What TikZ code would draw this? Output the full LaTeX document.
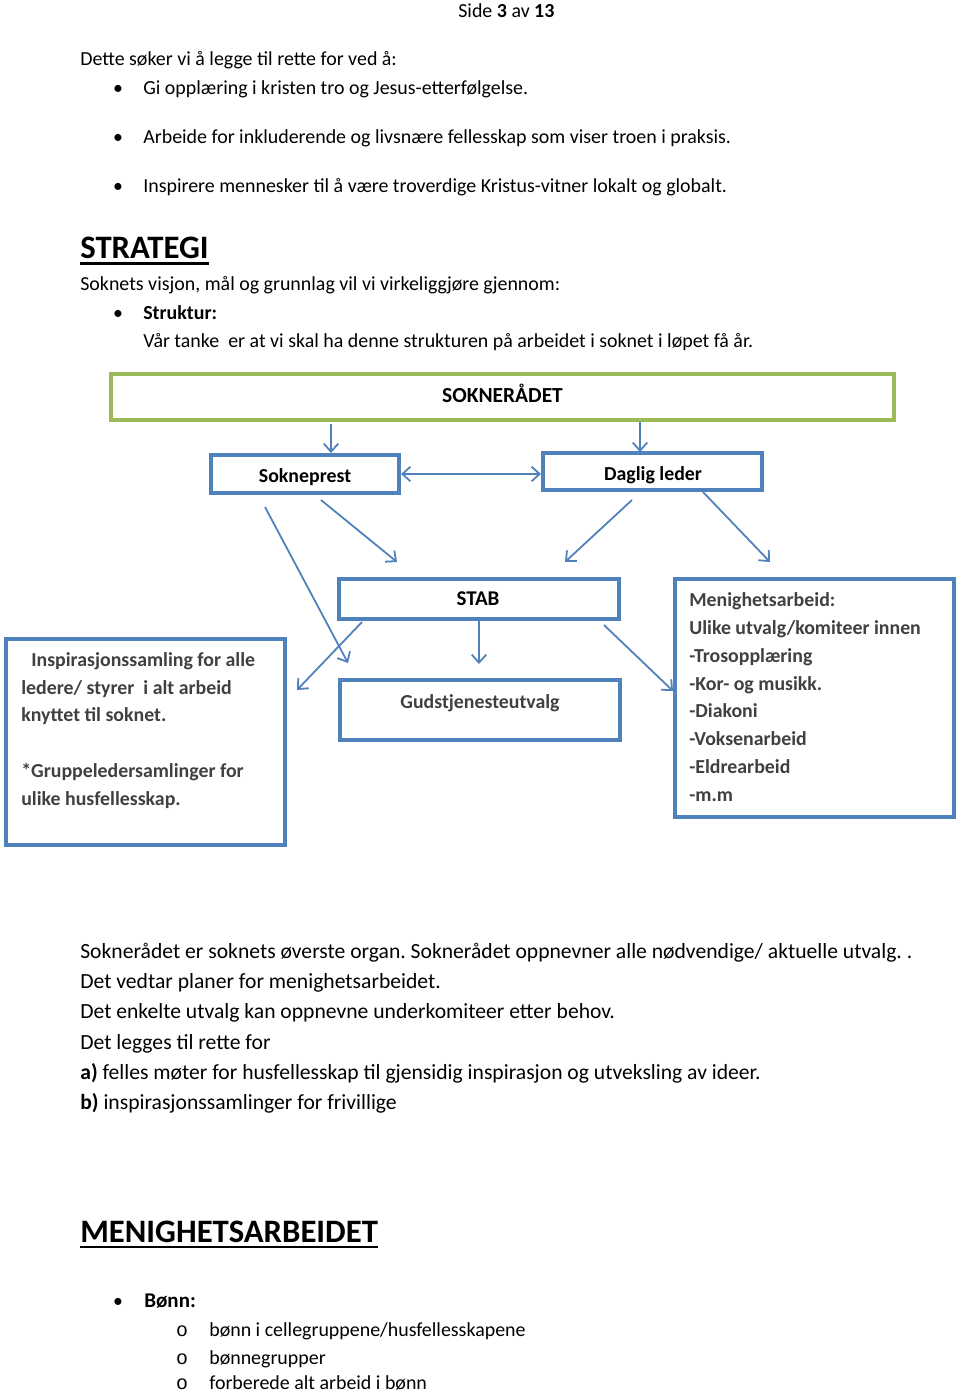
\documentclass[tikz,border=0pt]{standalone}
\usepackage{fontspec}
\setmainfont{Carlito}
\newfontfamily\monofnt{Liberation Mono}
\usetikzlibrary{arrows.meta,calc}
\definecolor{bxblue}{HTML}{4F81BD}
\definecolor{bxgreen}{HTML}{9BBB59}
\definecolor{txgray}{HTML}{404040}
\frenchspacing
\begin{document}
\begin{tikzpicture}[x=0.62pt,y=-0.62pt,
  txt/.style={anchor=base west, inner sep=0, yshift=-1pt, font=\fontsize{12.35}{14}\selectfont},
  txtb/.style={anchor=base west, inner sep=0, yshift=-0.6pt, font=\fontsize{13.4}{15}\selectfont},
  bul/.style={anchor=base, inner sep=0, yshift=-1pt, font=\fontsize{12.3}{14}\selectfont},
  head/.style={anchor=base west, inner sep=0, yshift=-1pt, font=\fontsize{20.3}{24}\selectfont\bfseries},
  bxt/.style={anchor=base west, inner sep=0, yshift=-0.6pt, font=\fontsize{12.3}{14}\selectfont\bfseries, text=txgray},
  bxc/.style={anchor=base, inner sep=0, yshift=-0.6pt, font=\fontsize{12.3}{14}\selectfont\bfseries},
  bluebox/.style={draw=bxblue, line width=2.3pt, fill=white, inner sep=0, rectangle},
  greenbox/.style={draw=bxgreen, line width=2.5pt, fill=white, inner sep=0, rectangle},
  conn/.style={draw=bxblue, line width=1.1pt, -{Straight Barb[length=5pt,width=9pt,line width=1.1pt]}},
  uline/.style={line width=1.6pt}
]
\useasboundingbox (0,0) rectangle (960,1394);
\fill[white] (0,0) rectangle (960,1394);

% header
\node[txt] (side) at (458,16) {Side \textbf{3} av \textbf{13}};

\node[txt] (t1) at (80,64) {Dette søker vi å legge til rette for ved å:};
\node[bul] (b1) at (118,93) {•};
\node[txt] (t2) at (143,93) {Gi opplæring i kristen tro og Jesus-etterfølgelse.};
\node[bul] (b2) at (118,142) {•};
\node[txt] (t3) at (143,142) {Arbeide for inkluderende og livsnære fellesskap som viser troen i praksis.};
\node[bul] (b3) at (118,191) {•};
\node[txt] (t4) at (143,191) {Inspirere mennesker til å være troverdige Kristus-vitner lokalt og globalt.};

\node[head] (strat) at (80,257) {STRATEGI};
\draw[uline] ($(strat.base west)+(0,5)$) -- ($(strat.base east)+(0,5)$);

\node[txt] (t5) at (80,289) {Soknets visjon, mål og grunnlag vil vi virkeliggjøre gjennom:};
\node[bul] (b4) at (118,318) {•};
\node[txt] (t6) at (143,318) {\bfseries Struktur:};
\node[txt] (t7) at (143,346) {Vår tanke\ \ er at vi skal ha denne strukturen på arbeidet i soknet i løpet få år.};

% diagram boxes
\node[greenbox, minimum width=783*0.62pt, minimum height=46*0.62pt] (sr) at (502.5,397) {};
\node[bxc, font=\fontsize{13.3}{15}\selectfont\bfseries] at (502.5,402) {SOKNERÅDET};

\node[bluebox, minimum width=188*0.62pt, minimum height=38*0.62pt] (sp) at (305,474) {};
\node[bxc] at (305,482) {Sokneprest};

\node[bluebox, minimum width=219*0.62pt, minimum height=37*0.62pt] (dl) at (652.5,471.5) {};
\node[bxc] at (653,480) {Daglig leder};

\node[bluebox, minimum width=280*0.62pt, minimum height=40*0.62pt] (stab) at (479,599) {};
\node[bxc, font=\fontsize{13}{15}\selectfont\bfseries] at (478,605) {STAB};

\node[bluebox, minimum width=280*0.62pt, minimum height=60*0.62pt] (gu) at (480,710) {};
\node[bxc, text=txgray] at (480,708) {Gudstjenesteutvalg};

\node[bluebox, minimum width=279*0.62pt, minimum height=206*0.62pt] (insp) at (145.5,742) {};
\node[bxt] at (31,666) {Inspirasjonssamling for alle};
\node[bxt] at (21,694) {ledere/ styrer\ \ i alt arbeid};
\node[bxt] at (21,721) {knyttet til soknet.};
\node[bxt] at (21,777) {*Gruppeledersamlinger for};
\node[bxt] at (21,805) {ulike husfellesskap.};

\node[bluebox, minimum width=279*0.62pt, minimum height=238*0.62pt] (men) at (814.5,698) {};
\node[bxt] at (689,606) {Menighetsarbeid:};
\node[bxt] at (689,634) {Ulike utvalg/komiteer innen};
\node[bxt] at (689,662) {-Trosopplæring};
\node[bxt] at (689,690) {-Kor- og musikk.};
\node[bxt] at (689,717) {-Diakoni};
\node[bxt] at (689,745) {-Voksenarbeid};
\node[bxt] at (689,773) {-Eldrearbeid};
\node[bxt] at (689,801) {-m.m};

% connector end points
\coordinate (a1s) at (331,424); \coordinate (a1e) at (331,453);
\coordinate (a2s) at (640,422); \coordinate (a2e) at (640,452);
\coordinate (a3s) at (401,474); \coordinate (a3e) at (541,474);
\coordinate (a4s) at (265,507); \coordinate (a4e) at (348,663);
\coordinate (a5s) at (321,500); \coordinate (a5e) at (397,562);
\coordinate (a6s) at (632,500); \coordinate (a6e) at (565,562);
\coordinate (a7s) at (703,492); \coordinate (a7e) at (770,562);
\coordinate (a8s) at (479,621); \coordinate (a8e) at (479,664);
\coordinate (a9s) at (362,622); \coordinate (a9e) at (297,690);
\coordinate (a10s) at (604,625); \coordinate (a10e) at (673,691);

\draw[conn] (a1s) -- (a1e);
\draw[conn] (a2s) -- (a2e);
\draw[conn, {Straight Barb[length=5pt,width=9pt,line width=1.1pt]}-{Straight Barb[length=5pt,width=9pt,line width=1.1pt]}] (a3s) -- (a3e);
\draw[conn] (a4s) -- (a4e);
\draw[conn] (a5s) -- (a5e);
\draw[conn] (a6s) -- (a6e);
\draw[conn] (a7s) -- (a7e);
\draw[conn] (a8s) -- (a8e);
\draw[conn] (a9s) -- (a9e);
\draw[conn] (a10s) -- (a10e);

% bottom text
\node[txtb] (p1) at (80,958) {Soknerådet er soknets øverste organ. Soknerådet oppnevner alle nødvendige/ aktuelle utvalg. .};
\node[txtb] (p2) at (80,988) {Det vedtar planer for menighetsarbeidet.};
\node[txtb] (p3) at (80,1018) {Det enkelte utvalg kan oppnevne underkomiteer etter behov.};
\node[txtb] (p4) at (80,1049) {Det legges til rette for};
\node[txtb] (p5) at (80,1079) {\textbf{a)} felles møter for husfellesskap til gjensidig inspirasjon og utveksling av ideer.};
\node[txtb] (p6) at (80,1109) {\textbf{b)} inspirasjonssamlinger for frivillige};

\node[head, yshift=1pt] (men2) at (80,1242) {MENIGHETSARBEIDET};
\draw[uline] ($(men2.base west)+(0,5)$) -- ($(men2.base east)+(0,5)$);

\node[bul] (b5) at (118,1306) {•};
\node[txt, font=\fontsize{13}{15}\selectfont] (t8) at (144,1306) {\bfseries Bønn:};
\node[bul, font=\fontsize{12.3}{14}\monofnt] (o1) at (182,1335) {o};
\node[txt] (s1) at (209,1335) {bønn i cellegruppene/husfellesskapene};
\node[bul, font=\fontsize{12.3}{14}\monofnt] (o2) at (182,1363) {o};
\node[txt] (s2) at (209,1363) {bønnegrupper};
\node[bul, font=\fontsize{12.3}{14}\monofnt, yshift=0.6pt] (o3) at (182,1389) {o};
\node[txt, yshift=0.6pt] (s3) at (209,1389) {forberede alt arbeid i bønn};
\end{tikzpicture}
\end{document}
